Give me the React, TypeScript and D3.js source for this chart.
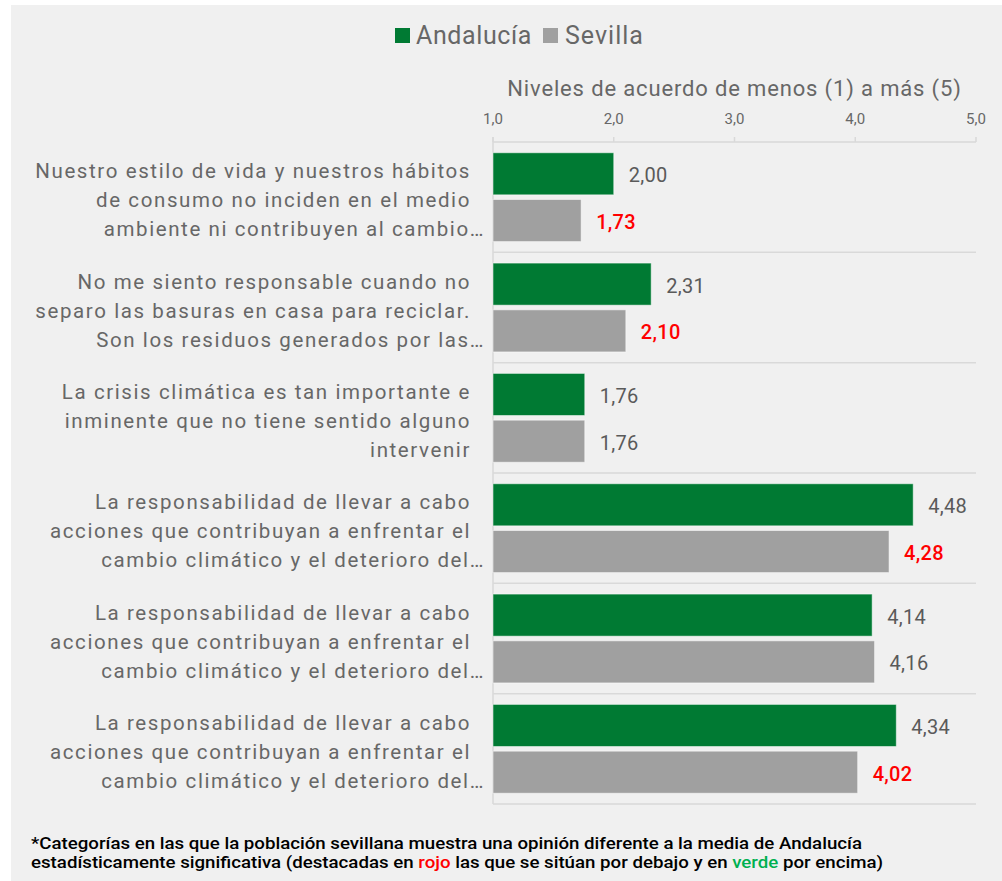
import React from "react";
import * as d3 from "d3";

const categories: string[][] = [
  ["Nuestro estilo de vida y nuestros hábitos", "de consumo no inciden en el medio", "ambiente ni contribuyen al cambio…"],
  ["No me siento responsable cuando no", "separo las basuras en casa para reciclar.", "Son los residuos generados por las…"],
  ["La crisis climática es tan importante e", "inminente que no tiene sentido alguno", "intervenir"],
  ["La responsabilidad de llevar a cabo", "acciones que contribuyan a enfrentar el", "cambio climático y el deterioro del…"],
  ["La responsabilidad de llevar a cabo", "acciones que contribuyan a enfrentar el", "cambio climático y el deterioro del…"],
  ["La responsabilidad de llevar a cabo", "acciones que contribuyan a enfrentar el", "cambio climático y el deterioro del…"],
];
const andalucia = [2.0, 2.31, 1.76, 4.48, 4.14, 4.34];
const sevilla = [1.73, 2.1, 1.76, 4.28, 4.16, 4.02];
// significance flag for Sevilla: -1 below (red), 0 none, 1 above (green)
const sevillaSig = [-1, -1, 0, -1, 0, -1];
const seriesNames = ["Andalucía", "Sevilla"];
const ticks = [1, 2, 3, 4, 5];

const GREEN = "#007a33";
const GRAY = "#a0a0a0";
const TEXT = "#676767";
const VALTEXT = "#5a5a5a";
const GRID = "#d9d9d9";
const FONT = "Roboto, 'DejaVu Sans', sans-serif";

export default function App() {
  const W = 1002, H = 881;
  const x = d3.scaleLinear().domain([1, 5]).range([493, 976]);
  const y = d3.scaleBand<number>().domain(d3.range(categories.length)).range([142, 804]).padding(0);
  const sub = d3.scaleBand<string>().domain(seriesNames).range([0, y.bandwidth()]).paddingInner(0.1).paddingOuter(0.23);
  const fmt = (v: number) => v.toFixed(2).replace(".", ",");
  const fmtTick = (v: number) => v.toFixed(1).replace(".", ",");
  const lineH = 29;

  return (
    <svg width={W} height={H} style={{ position: "absolute", left: 0, top: 0, background: "#fff" }} fontFamily={FONT}>
      <rect x={11} y={5} width={W - 11} height={H - 5} fill="#f0f0f0" />

      {/* legend */}
      <rect x={395} y={28} width={15} height={15} fill={GREEN} />
      <text x={416} y={44} fontSize={25} fill={TEXT} letterSpacing={0.6}>{seriesNames[0]}</text>
      <rect x={543} y={28} width={15} height={15} fill={GRAY} />
      <text x={565} y={44} fontSize={25} fill={TEXT} letterSpacing={1}>{seriesNames[1]}</text>

      {/* axis title */}
      <text x={(x(1) + x(5)) / 2} y={96} fontSize={22} fill={TEXT} textAnchor="middle" letterSpacing={0.85}>
        Niveles de acuerdo de menos (1) a más (5)
      </text>

      {/* ticks */}
      {ticks.map((t) => (
        <g key={t}>
          <text x={x(t)} y={124} fontSize={15} fill={TEXT} textAnchor="middle">{fmtTick(t)}</text>
          <line x1={x(t)} x2={x(t)} y1={137} y2={142} stroke={GRID} strokeWidth={1.5} />
        </g>
      ))}
      <line x1={x(1)} x2={x(5)} y1={142} y2={142} stroke={GRID} strokeWidth={1.5} />
      <line x1={x(1)} x2={x(1)} y1={137} y2={804} stroke={GRID} strokeWidth={1.5} />

      {categories.map((lines, i) => {
        const y0 = y(i)!;
        const cy = y0 + y.bandwidth() / 2;
        const ya = y0 + sub(seriesNames[0])!;
        const ys = y0 + sub(seriesNames[1])!;
        const bh = sub.bandwidth();
        const sColor = sevillaSig[i] < 0 ? "#ff0000" : sevillaSig[i] > 0 ? "#00b050" : VALTEXT;
        return (
          <g key={i}>
            <line x1={x(1)} x2={x(5)} y1={y0 + y.bandwidth()} y2={y0 + y.bandwidth()} stroke={GRID} strokeWidth={1.5} />
            {lines.map((ln, k) => {
              const ty = cy + (k - (lines.length - 1) / 2) * lineH + 10;
              const ell = ln.endsWith("…");
              return (
                <text key={k} x={ell ? 485 : 471} y={ty} fontSize={20.5} fill={TEXT} textAnchor="end" letterSpacing={1.6}>{ln}</text>
              );
            })}
            <rect x={x(1)} y={ya} width={x(andalucia[i]) - x(1)} height={bh} fill={GREEN} stroke="#ffffff" strokeOpacity={0.5} strokeWidth={1} />
            <rect x={x(1)} y={ys} width={x(sevilla[i]) - x(1)} height={bh} fill={GRAY} stroke="#ffffff" strokeOpacity={0.5} strokeWidth={1} />
            <text x={x(andalucia[i]) + 15} y={ya + bh / 2 + 8.5} fontSize={20} fill={VALTEXT} letterSpacing={0.3}>{fmt(andalucia[i])}</text>
            <text x={x(sevilla[i]) + 15} y={ys + bh / 2 + 8.5} fontSize={20} fill={sColor} letterSpacing={0.3} fontWeight={sevillaSig[i] !== 0 ? 500 : 400}>{fmt(sevilla[i])}</text>
          </g>
        );
      })}

      {/* footnote */}
      <text x={31} y={849} fontSize={16} fill="#000" fontWeight={500} textLength={831} lengthAdjust="spacingAndGlyphs">
        *Categorías en las que la población sevillana muestra una opinión diferente a la media de Andalucía
      </text>
      <text x={31} y={868} fontSize={16} fill="#000" fontWeight={500} textLength={852} lengthAdjust="spacingAndGlyphs">
        estadísticamente significativa (destacadas en <tspan fill="#ff0000">rojo</tspan> las que se sitúan por debajo y en <tspan fill="#00b050">verde</tspan> por encima)
      </text>
    </svg>
  );
}
